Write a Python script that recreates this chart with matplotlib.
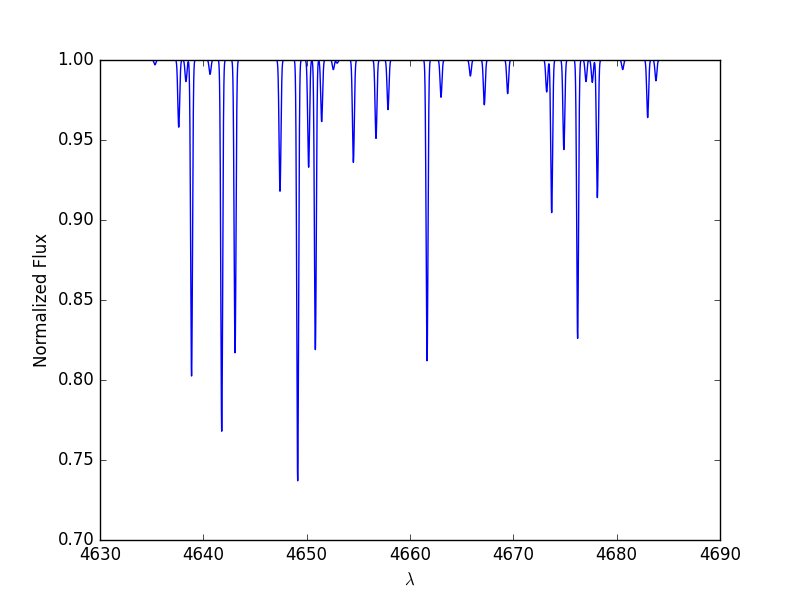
import numpy as np
import matplotlib
matplotlib.use('Agg')
from matplotlib import pyplot as plt

# absorption lines: centre (A) and minimum flux
centers = [4635.32, 4637.62, 4638.32, 4638.86, 4640.65, 4641.78, 4643.07,
           4647.42, 4649.13, 4650.19, 4650.84, 4651.45, 4652.58, 4652.95,
           4654.52, 4656.71, 4657.87, 4661.65, 4663.00, 4665.84, 4667.19,
           4669.45, 4673.23, 4673.71, 4674.89, 4676.22, 4677.03, 4677.64,
           4678.13, 4680.58, 4683.00, 4683.80]
minflux = [0.997, 0.958, 0.9865, 0.8025, 0.991, 0.768, 0.817,
           0.918, 0.737, 0.933, 0.819, 0.9615, 0.994, 0.998,
           0.936, 0.951, 0.969, 0.812, 0.9767, 0.990, 0.972,
           0.979, 0.980, 0.9046, 0.944, 0.826, 0.9865, 0.986,
           0.914, 0.994, 0.964, 0.987]
sigma = 0.09

wave = np.arange(4630.0, 4690.0, 0.01)
flux = np.ones_like(wave)
for c, f in zip(centers, minflux):
    flux *= 1 - (1 - f) * np.exp(-0.5 * ((wave - c) / sigma) ** 2)

plt.style.use('classic')
fig = plt.figure(figsize=(8, 6), dpi=100, facecolor='white')
ax = fig.add_subplot(111)
ax.plot(wave, flux, 'b-')
ax.set_xlim(4630, 4690)
ax.set_ylim(0.70, 1.00)
ax.ticklabel_format(axis='x', useOffset=False)
ax.yaxis.set_major_formatter(matplotlib.ticker.FormatStrFormatter('%.2f'))
ax.set_xlabel(r'$\lambda$')
ax.set_ylabel('Normalized Flux')
plt.savefig('out.png', dpi=100, facecolor='white')
